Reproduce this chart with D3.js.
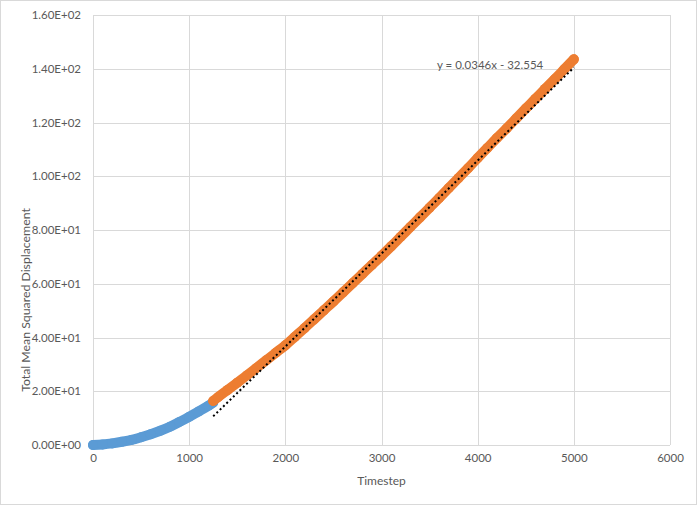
<!DOCTYPE html>
<html><head><meta charset="utf-8">
<script src="https://cdn.jsdelivr.net/npm/d3@7"></script>
<style>body{margin:0;background:#fff;} svg{display:block;font-family:Lato,"Open Sans",sans-serif;}</style>
</head><body><div id="chart"></div>
<script>
const blueSteps = [0,100,200,300,400,500,600,700,800,900,1000,1100,1200,1250];
const blueMSD   = [0,0.2,0.6,1.2,1.9,2.9,4.0,5.3,6.8,8.6,10.5,12.5,14.6,15.8];
const orangeSteps = [1250,1300,1400,1500,1600,1700,1800,1900,2000,2100,2200,2300,2400,2500,2600,2700,2800,2900,3000,3100,3200,3300,3400,3500,3600,3700,3800,3900,4000,4100,4200,4300,4400,4500,4600,4700,4800,4900,5000];
const orangeMSD   = [16.4,17.8,20.5,23.2,25.9,28.7,31.5,34.3,37.1,40.3,43.5,46.8,50.1,53.4,56.8,60.2,63.6,67.0,70.4,73.9,77.5,81.1,84.7,88.3,91.9,95.6,99.3,103.0,106.8,110.5,114.2,117.8,121.5,125.2,128.8,132.5,136.1,139.8,143.5];
const trendSlope = 0.0346, trendIntercept = -32.554;
const trendRange = [1250, 5000];
const xTicks = [0,1000,2000,3000,4000,5000,6000];
const yTicks = [0,20,40,60,80,100,120,140,160];
const yTickLabels = ["0.00E+00","2.00E+01","4.00E+01","6.00E+01","8.00E+01","1.00E+02","1.20E+02","1.40E+02","1.60E+02"];
const equationText = "y = 0.0346x - 32.554";
const xTitle = "Timestep", yTitle = "Total Mean Squared Displacement";

const W = 697, H = 505;
const m = {left:93, right:27, top:15, bottom:60};
const svg = d3.select("#chart").append("svg").attr("width",W).attr("height",H);
svg.append("rect").attr("x",0.5).attr("y",0.5).attr("width",W-1).attr("height",H-1).attr("fill","#fff").attr("stroke","#D9D9D9");

const x = d3.scaleLinear().domain([0,6000]).range([m.left, W-m.right]);
const y = d3.scaleLinear().domain([0,160]).range([H-m.bottom, m.top]);

// gridlines
svg.append("g").selectAll("line").data(yTicks).join("line")
  .attr("x1",x(0)).attr("x2",x(6000)).attr("y1",d=>Math.round(y(d))+0.5).attr("y2",d=>Math.round(y(d))+0.5)
  .attr("stroke","#D9D9D9");
svg.append("g").selectAll("line").data(xTicks).join("line")
  .attr("y1",y(0)).attr("y2",y(160)).attr("x1",d=>Math.round(x(d))+0.5).attr("x2",d=>Math.round(x(d))+0.5)
  .attr("stroke","#D9D9D9");

// axes labels
const yAxis = d3.axisLeft(y).tickValues(yTicks).tickFormat((d,i)=>yTickLabels[i]).tickSize(0).tickPadding(12);
const gy = svg.append("g").attr("transform",`translate(${m.left},0)`).call(yAxis);
gy.select(".domain").remove();
gy.selectAll("text").attr("fill","#595959").style("font-size","11.5px").style("font-family","Lato,'Open Sans',sans-serif");
const xAxis = d3.axisBottom(x).tickValues(xTicks).tickFormat(d3.format("d")).tickSize(0).tickPadding(9);
const gx = svg.append("g").attr("transform",`translate(0,${y(0)})`).call(xAxis);
gx.select(".domain").remove();
gx.selectAll("text").attr("fill","#595959").style("font-size","11.5px").style("font-family","Lato,'Open Sans',sans-serif");

// series
function drawSeries(steps, vals, color){
  const pts = steps.map((s,i)=>[s, vals[i]]);
  svg.append("path").datum(pts)
    .attr("d", d3.line().x(d=>x(d[0])).y(d=>y(d[1])).curve(d3.curveMonotoneX))
    .attr("fill","none").attr("stroke",color).attr("stroke-width",10)
    .attr("stroke-linecap","round").attr("stroke-linejoin","round");
  svg.append("g").selectAll("circle").data(pts).join("circle")
    .attr("cx",d=>x(d[0])).attr("cy",d=>y(d[1])).attr("r",5).attr("fill",color);
}
drawSeries(blueSteps, blueMSD, "#5B9BD5");
drawSeries(orangeSteps, orangeMSD, "#ED7D31");

// trendline
svg.append("line")
  .attr("x1",x(trendRange[0])).attr("y1",y(trendSlope*trendRange[0]+trendIntercept))
  .attr("x2",x(trendRange[1])).attr("y2",y(trendSlope*trendRange[1]+trendIntercept))
  .attr("stroke","#000").attr("stroke-width",2).attr("stroke-dasharray","2,2.6");

svg.append("text").attr("x",437).attr("y",69).attr("fill","#595959")
  .style("font-size","11.5px").text(equationText);

svg.append("text").attr("x",(x(0)+x(6000))/2).attr("y",485).attr("text-anchor","middle")
  .attr("fill","#595959").style("font-size","12px").text(xTitle);
svg.append("text").attr("transform","translate(30,300) rotate(-90)").attr("text-anchor","middle")
  .attr("fill","#595959").style("font-size","12.3px").text(yTitle);
</script></body></html>
